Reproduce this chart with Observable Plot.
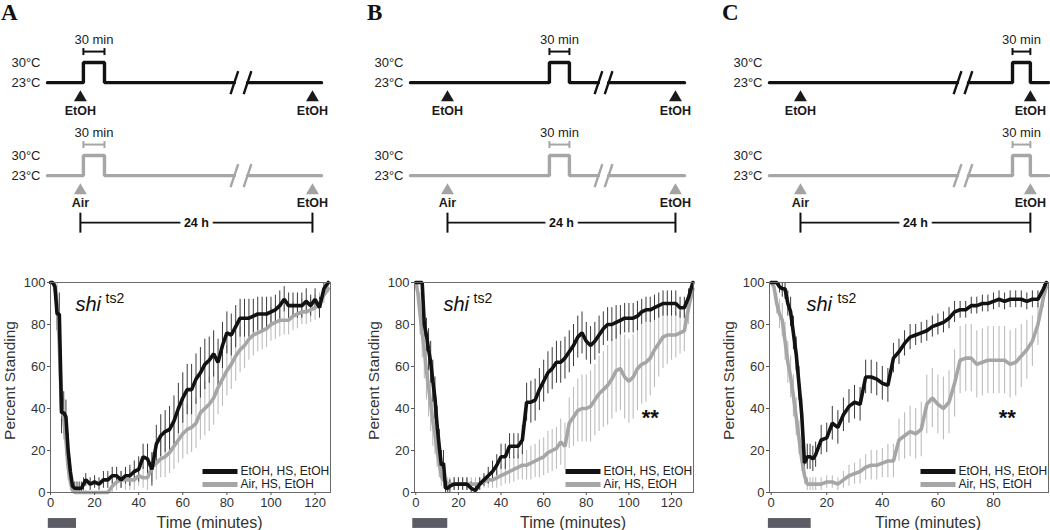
<!DOCTYPE html>
<html>
<head>
<meta charset="utf-8">
<script src="https://cdn.jsdelivr.net/npm/d3@7"></script>
<script src="https://cdn.jsdelivr.net/npm/@observablehq/plot@0.6"></script>
<style>
  body { margin: 0; background: #fff; }
  #fig { position: relative; width: 1050px; height: 530px; overflow: hidden; background: #fff; }
  .abs { position: absolute; }
  .plabel { position: absolute; top: 0px; font-family: "Liberation Serif", "DejaVu Serif", serif; font-weight: bold; font-size: 23px; color: #111; }
</style>
</head>
<body>
<div id="fig"></div>
<script>
// ---------------- DATA ----------------
const panelIds = ["A", "B", "C"];

// Schematic protocol (arbitrary timeline units 0..100 along the drawn line)
const protocols = ["EtOH", "Air"];
const secondLabel = "EtOH";
const tempLow = 23, tempHigh = 30;
const pulseLabel = "30 min";
const intervalLabel = "24 h";
const firstExposure = [12.0, 13.5, 11.1];
const secondExposure = [96.7, 96.7, 93.5];
const pulseStart = [13.1, 50.7, 87.1];
const pulseEnd = [20.8, 58.0, 93.5];
const breakLeft = [68.2, 68.6, 67.4];
const breakRight = [73.0, 72.3, 71.3];

// Recovery curves
const yTicks = [0, 20, 40, 60, 80, 100];
const xTicksA = [0, 20, 40, 60, 80, 100, 120];
const xTicksB = [0, 20, 40, 60, 80, 100, 120];
const xTicksC = [0, 20, 40, 60, 80];
const seriesNames = ["EtOH, HS, EtOH", "Air, HS, EtOH"];
const genotype = "shi";
const allele = "ts2";
const xLabel = "Time (minutes)";
const yLabel = "Percent Standing";
const sigText = "**";
const sigTime = [null, 110, 85];
const sigLevel = [null, 38, 38];
const heatBarStart = [-1, -1.4, -1];
const heatBarEnd = [11.8, 15, 14.4];

const timeA = [0,1,2,3,4,5,6,7,8,9,10,11,12,13,14,15,16,
  18,20,22,24,26,28,30,32,34,36, 38,40,42,44,46,48,50,52,54,56,
  58,60,62,64,66,68,70,72,74,76, 78,80,82,84,86,88,90,92,94,96,
  98,100,102,104,106,108,110,112,114,116, 118,120,122,124,126];
const blackA = [100,100,98,85,85,38,38,36,20,10,3,2,2,2,2,4,6,
  4,5,4,6,6,8,8,6,8,8, 10,11,17,16,11,23,27,29,30,34,
  40,45,49,49,54,57,61,63,66,62, 70,76,75,79,83,83,83,84,85,85,
  85,86,87,89,92,89,89,89,89,91, 89,92,88,97,100];
const greyA = [100,100,98,90,70,40,35,25,12,5,1,0,0,0,0,0,0,
  0,0,0,0,0,3,5,6,6,6, 6,8,7,7,12,14,16,17,19,22,
  25,28,30,31,33,38,40,42,45,50, 54,58,61,65,68,70,73,75,76,77,
  78,80,81,82,82,82,84,85,86,86, 87,88,90,94,97];
const blackErrA = [0,0,2,8,10,10,10,8,8,6,3,3,3,3,3,3,3,
  3,3,3,4,4,4,4,4,4,5, 5,6,6,7,8,9,10,10,11,12,
  12,12,12,12,12,12,12,11,11,11, 11,10,10,10,9,9,9,8,8,8,
  8,7,7,7,6,6,6,6,6,6, 5,5,5,3,1];
const greyErrA = [0,1,5,10,15,12,10,8,6,4,2,1,1,1,1,1,1,
  0,0,0,0,0,3,4,4,5,5, 5,5,5,6,7,8,9,10,10,11,
  11,12,12,12,12,13,13,13,13,13, 13,12,12,12,11,11,10,10,9,9,
  9,8,8,8,7,7,7,7,6,6, 6,6,5,4,2];

const timeB = [0,1,2,3,4,5,6,7,8,9,10,11,12,13,14,15,16,
  18,20,22,24,26,28,30,32,34,36, 38,40,42,44,46,48,50,52,54,56,
  58,60,62,64,66,68,70,72,74,76, 78,80,82,84,86,88,90,92,94,96,
  98,100,102,104,106,108,110,112,114,116, 118,120,122,124,126,128,130];
const blackB = [100,100,100,100,80,75,68,62,53,45,32,22,13,14,2,2,3,
  4,4,4,4,2,1,4,6,8,10, 13,17,17,22,22,22,25,43,43,44,
  49,53,57,59,62,62,64,67,70,74, 76,72,70,72,75,78,80,80,81,82,
  83,83,83,84,86,87,87,88,89,90, 90,90,90,88,88,93,100];
const greyB = [100,95,85,76,68,58,50,42,34,28,20,14,8,6,5,4,4,
  4,4,4,4,4,4,4,5,6,6, 7,8,9,10,11,12,13,13,14,15,
  16,17,19,20,21,24,22,33,36,39, 40,40,41,44,47,49,51,54,58,59,
  55,53,55,59,61,62,64,68,71,74, 75,75,75,76,77,88,97];
const blackErrB = [0,0,0,2,6,8,10,10,10,10,9,8,7,6,3,3,3,
  3,3,3,3,3,3,3,3,4,5, 5,6,6,6,6,6,7,9,10,10,
  10,10,10,10,10,10,10,10,10,10, 10,9,9,9,9,8,8,8,8,7,
  7,7,7,7,6,6,6,6,6,6, 6,6,6,5,5,4,1];
const greyErrB = [0,5,10,12,14,14,14,13,12,10,8,7,5,4,3,3,3,
  3,3,3,3,3,3,3,3,4,4, 5,5,5,6,6,6,7,7,8,8,
  9,9,10,10,10,11,11,12,14,15, 16,16,17,17,18,18,19,19,20,20,
  20,20,20,20,19,19,18,18,16,15, 14,12,11,10,10,8,3];

const timeC = [0,1,2,3,4,5,6,7,8,9,10,11,12,13,14,15,16,
  18,20,22,24,26,28,30,32,34,36, 38,40,42,44,46,48,50,52,54,56,
  58,60,62,64,66,68,70,72,74,76, 78,80,82,84,86,88,90,92,94,96, 98,99];
const blackC = [100,100,100,98,97,97,90,86,76,66,52,37,14,17,17,16,18,
  25,26,33,31,37,41,43,42,55,55, 54,52,51,64,67,71,74,75,76,77,
  79,80,81,83,86,87,87,89,89,90, 90,91,92,91,92,92,92,91,92,92, 97,100];
const greyC = [100,98,90,85,82,72,62,55,46,36,26,16,8,4,4,4,4,
  4,5,5,4,6,8,9,10,12,13, 13,14,15,15,25,27,29,28,30,42,
  45,42,40,43,52,63,64,64,61,62, 63,63,63,63,61,62,65,68,72,80, 93,98];
const blackErrC = [0,0,1,3,4,5,6,7,8,8,8,8,6,6,6,6,6,
  7,7,8,8,8,8,8,8,8,8, 8,8,8,7,6,6,6,5,5,5,
  5,5,5,5,5,4,4,4,4,4, 4,4,4,4,4,4,4,4,4,4, 2,0];
const greyErrC = [0,2,5,7,8,9,10,10,10,9,8,6,4,3,3,3,3,
  3,3,3,3,4,5,5,6,6,7, 7,7,8,8,10,11,12,12,13,14,
  14,14,15,15,16,16,16,16,16,16, 16,16,16,16,16,16,15,14,12,10, 5,2];

// ---------------- STYLE / LAYOUT ----------------
const BLACK = "#121212", GREY = "#a6a6a6";
const FONT = "Liberation Sans, Arial, Helvetica, sans-serif";
const layout = [
  {left: 0,   sml: 47, smr: 29, ml: 50, mr: 20, xdom: [0, 127],      shi: [25, 55], letter: 1},
  {left: 350, sml: 60, smr: 16, ml: 64, mr: 7,  xdom: [-0.6, 130.3], shi: [29, 59], letter: 367},
  {left: 700, sml: 69, smr: 2,  ml: 69, mr: 2,  xdom: [-0.6, 99.8],  shi: [37, 68], letter: 722}
];
const chartSets = [
  {t: timeA, black: blackA, grey: greyA, be: blackErrA, ge: greyErrA, xt: xTicksA},
  {t: timeB, black: blackB, grey: greyB, be: blackErrB, ge: greyErrB, xt: xTicksB},
  {t: timeC, black: blackC, grey: greyC, be: blackErrC, ge: greyErrC, xt: xTicksC}
];

const vbar = h => ({draw(ctx) { ctx.moveTo(0, -h / 2); ctx.lineTo(0, h / 2); }});
const hbar = (w, h) => ({draw(ctx) {
  ctx.moveTo(-w / 2, -h / 2); ctx.lineTo(w / 2, -h / 2); ctx.lineTo(w / 2, h / 2); ctx.lineTo(-w / 2, h / 2); ctx.closePath();
}});

function profile(i) {
  const raw = [[0, tempLow], [pulseStart[i], tempLow], [pulseStart[i], tempHigh],
               [pulseEnd[i], tempHigh], [pulseEnd[i], tempLow], [100, tempLow]];
  const out = [];
  raw.forEach(([x, t], k) => {
    if (k > 0 && raw[k - 1][0] <= breakLeft[i] && x > breakLeft[i]) {
      out.push({x: breakLeft[i], t: tempLow, seg: 0});
      out.push({x: breakRight[i], t: tempLow, seg: 1});
    }
    out.push({x, t, seg: x <= breakLeft[i] ? 0 : 1});
  });
  return out;
}

function schemRow(i, rowIdx) {
  const L = layout[i];
  const r = protocols[rowIdx];
  const col = rowIdx === 0 ? BLACK : GREY;
  const triCol = rowIdx === 0 ? "#1a1a1a" : "#a3a3a3";
  const slashes = [breakLeft[i], breakRight[i]].map(b => ({x1: b - 1.4, x2: b + 1.4}));
  const arrows = [{x: firstExposure[i], label: r}, {x: secondExposure[i], label: secondLabel}];
  const pulse = [{x1: pulseStart[i], x2: pulseEnd[i]}];
  const marks = [
    Plot.line(profile(i), {x: "x", y: "t", z: "seg", stroke: col, strokeWidth: 3.4, strokeLinejoin: "miter"}),
    Plot.link(slashes, {x1: "x1", x2: "x2", y1: tempLow - 4, y2: tempLow + 4, stroke: col, strokeWidth: 2.4}),
    Plot.dot(arrows, {x: "x", y: tempLow, dy: 15, symbol: "triangle", r: 4.8, fill: triCol, stroke: null}),
    Plot.text(arrows, {x: "x", y: tempLow, dy: 28 - rowIdx, text: "label", fontWeight: "bold", fontSize: 12.5, fill: "#1a1a1a"}),
    Plot.link(pulse, {x1: "x1", x2: "x2", y1: tempHigh, y2: tempHigh, dy: -11, stroke: col, strokeWidth: 2}),
    Plot.dot([pulseStart[i], pulseEnd[i]], {x: d => d, y: tempHigh, dy: -11, symbol: vbar(7), stroke: col, strokeWidth: 2, fill: "none"}),
    Plot.text(pulse, {x: d => (d.x1 + d.x2) / 2, y: tempHigh, dy: -23, text: () => pulseLabel, fontSize: 13, fill: "#222"}),
    Plot.axisY({ticks: [tempLow, tempHigh], tickFormat: d => d + "°C", tickSize: 0, tickPadding: 7, fontSize: 13, fill: "#222", label: null})
  ];
  if (rowIdx === 1) {
    const interval = [{x1: firstExposure[i], x2: secondExposure[i]}];
    marks.push(
      Plot.link(interval, {x1: "x1", x2: "x2", y1: tempLow, y2: tempLow, dy: 47, stroke: "#111", strokeWidth: 1.8}),
      Plot.dot([firstExposure[i], secondExposure[i]], {x: d => d, y: tempLow, dy: 47, symbol: vbar(20), stroke: "#111", strokeWidth: 2, fill: "none"}),
      Plot.text(interval, {x: d => (d.x1 + d.x2) / 2, y: tempLow, dy: 47, text: () => intervalLabel, fontWeight: "bold", fontSize: 12.5, fill: "#111", stroke: "white", strokeWidth: 9})
    );
  }
  return Plot.plot({
    width: 350, height: 150,
    marginLeft: L.sml, marginRight: L.smr, marginTop: 33.4, marginBottom: 30.6,
    x: {domain: [0, 100], axis: null},
    y: {domain: [10, 40]},
    style: {fontFamily: FONT, fontSize: "13px", color: "#222", background: "transparent", overflow: "visible"},
    marks
  });
}

function chart(i) {
  const L = layout[i];
  const S = chartSets[i];
  const rows = S.t.map((t, k) => ({t, black: S.black[k], grey: S.grey[k], be: S.be[k], ge: S.ge[k]}));
  const bar = [{start: heatBarStart[i], end: heatBarEnd[i]}];
  const marks = [
    Plot.ruleX(rows, {x: "t", y1: d => Math.max(0, d.grey - d.ge), y2: d => Math.min(100, d.grey + d.ge), stroke: "#bdbdbd", strokeWidth: 1.1}),
    Plot.ruleX(rows, {x: "t", y1: d => Math.max(0, d.black - d.be), y2: d => Math.min(100, d.black + d.be), stroke: "#3a3a3a", strokeWidth: 1}),
    Plot.line(rows, {x: "t", y: "grey", stroke: GREY, strokeWidth: 3.6, strokeLinejoin: "miter"}),
    Plot.line(rows, {x: "t", y: "black", stroke: BLACK, strokeWidth: 3.6, strokeLinejoin: "miter"}),
    Plot.rect(bar, {x1: "start", x2: "end", y1: -12.4, y2: -17.1, fill: "#5c5c64"}),
    Plot.frame({stroke: "#6a6a6a", strokeWidth: 1}),
    Plot.axisX({ticks: S.xt, tickSize: 3, tickPadding: 2, label: null, fontSize: 13, stroke: "#555", fill: "#333"}),
    Plot.axisY({ticks: yTicks, tickSize: 3, tickPadding: 2, label: null, fontSize: 13, stroke: "#555", fill: "#333"}),
    Plot.text([yLabel], {text: d => d, frameAnchor: "left", textAnchor: "middle", lineAnchor: "middle", rotate: -90, dx: -40, dy: -7, fontSize: 15.5, fill: "#333"}),
    Plot.text([xLabel], {text: d => d, frameAnchor: "bottom", textAnchor: "middle", lineAnchor: "middle", dx: 19, dy: 30, fontSize: 16, fill: "#333"}),
    Plot.text([genotype], {text: d => d, frameAnchor: "top-left", dx: L.shi[0], dy: 28, fontStyle: "italic", fontSize: 20, textAnchor: "start", lineAnchor: "bottom", fill: "#111"}),
    Plot.text([allele], {text: d => d, frameAnchor: "top-left", dx: L.shi[1], dy: 20, fontSize: 14, textAnchor: "start", lineAnchor: "bottom", fill: "#111"}),
    Plot.dot([seriesNames[0]], {frameAnchor: "bottom-right", dx: -110.5, dy: -21, symbol: hbar(35, 5), fill: BLACK, stroke: null}),
    Plot.dot([seriesNames[1]], {frameAnchor: "bottom-right", dx: -110.5, dy: -8, symbol: hbar(35, 5), fill: GREY, stroke: null}),
    Plot.text([seriesNames[0]], {text: d => d, frameAnchor: "bottom-right", dx: -90, dy: -21, textAnchor: "start", lineAnchor: "middle", fontSize: 12, fill: "#222"}),
    Plot.text([seriesNames[1]], {text: d => d, frameAnchor: "bottom-right", dx: -90, dy: -8, textAnchor: "start", lineAnchor: "middle", fontSize: 12, fill: "#222"})
  ];
  if (sigTime[i] != null) {
    marks.push(Plot.text([{t: sigTime[i], v: sigLevel[i]}], {x: "t", y: "v", text: () => sigText, fontSize: 22, fontWeight: "bold", dy: 5, fill: "#111"}));
  }
  return Plot.plot({
    width: 350, height: 265,
    marginLeft: L.ml, marginRight: L.mr, marginTop: 17, marginBottom: 38,
    x: {domain: L.xdom},
    y: {domain: [0, 100]},
    style: {fontFamily: FONT, fontSize: "13px", color: "#333", background: "transparent", overflow: "visible"},
    marks
  });
}

// ---------------- RENDER ----------------
const fig = document.getElementById("fig");
function place(node, left, top) {
  node.classList.add("abs");
  node.style.left = left + "px";
  node.style.top = top + "px";
  fig.appendChild(node);
}
panelIds.forEach((id, i) => {
  const L = layout[i];
  place(schemRow(i, 0), L.left, 0);
  place(schemRow(i, 1), L.left, 93);
  place(chart(i), L.left, 265);
  const lab = document.createElement("div");
  lab.className = "plabel";
  lab.style.left = L.letter + "px";
  lab.textContent = id;
  fig.appendChild(lab);
});
</script>
</body>
</html>
